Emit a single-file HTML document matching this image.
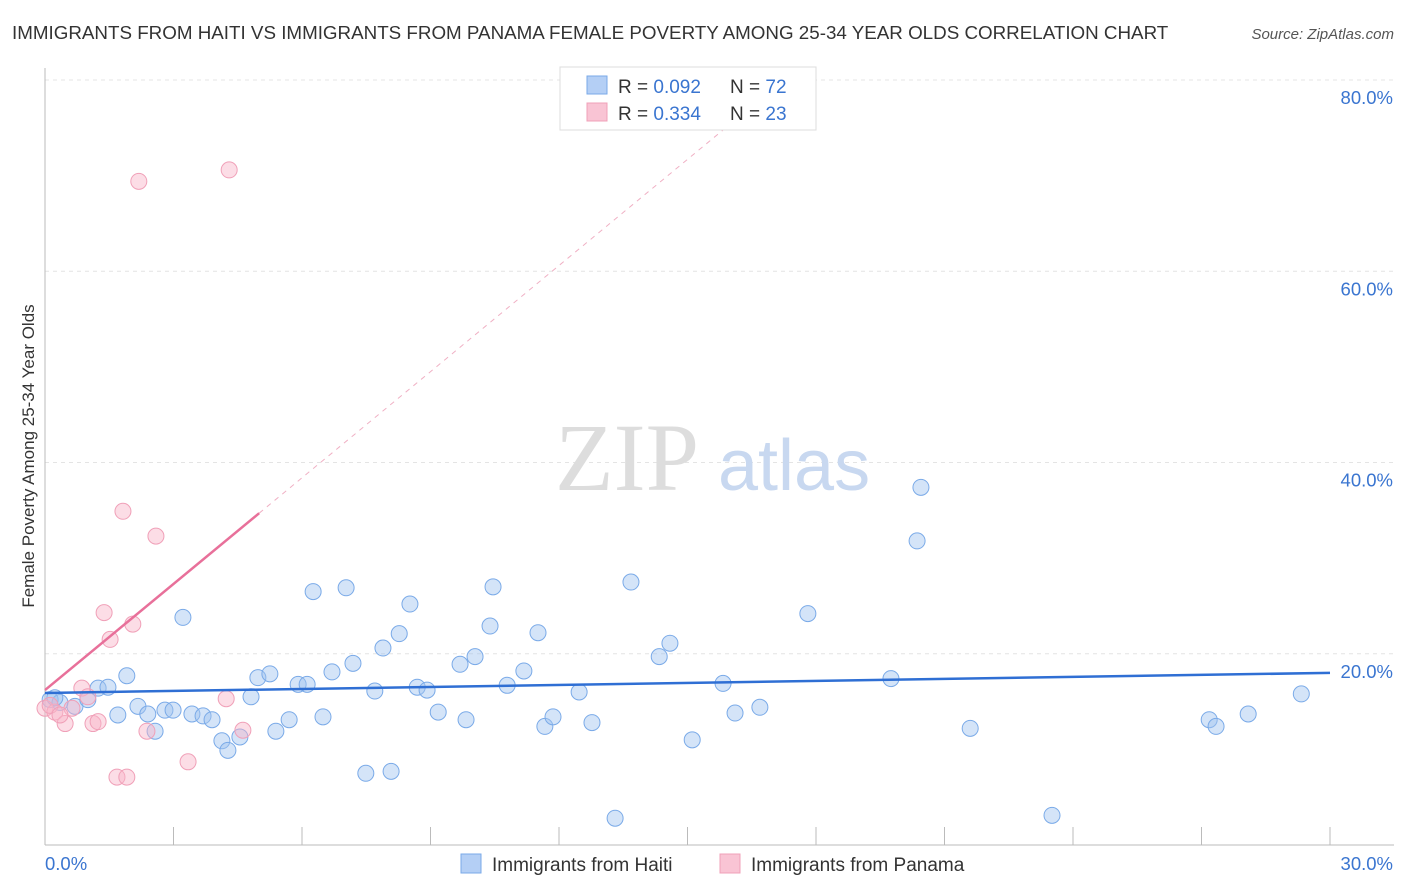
<!DOCTYPE html>
<html><head><meta charset="utf-8"><style>
body{margin:0;background:#fff;font-family:"Liberation Sans",sans-serif}
svg{display:block}
</style></head><body>
<svg width="1406" height="892" viewBox="0 0 1406 892">
<text x="12" y="39" font-size="18.8" fill="#333">IMMIGRANTS FROM HAITI VS IMMIGRANTS FROM PANAMA FEMALE POVERTY AMONG 25-34 YEAR OLDS CORRELATION CHART</text>
<text x="1394" y="39" font-size="15" fill="#555" font-style="italic" text-anchor="end">Source: ZipAtlas.com</text>
<g id="grid"></g>
<g><text x="555" y="490" font-size="96" font-family="Liberation Serif" fill="#ddd">ZIP</text><text x="718" y="490" font-size="72" fill="#c8d8f0">atlas</text></g>
<g id="axes"></g>
<g id="marks"></g>
<text transform="translate(34,456) rotate(-90)" font-size="17" fill="#333" text-anchor="middle">Female Poverty Among 25-34 Year Olds</text>
<g>
<rect x="560" y="67" width="256" height="63" fill="#fff" stroke="#ddd"/>
<rect x="587" y="76" width="20" height="18" fill="#b4cff5" stroke="#7aaae8"/>
<rect x="587" y="103" width="20" height="18" fill="#f9c4d4" stroke="#f0a0b8"/>
<text x="618" y="93" font-size="19" fill="#333">R = <tspan fill="#3a75d0">0.092</tspan></text>
<text x="730" y="93" font-size="19" fill="#333">N = <tspan fill="#3a75d0">72</tspan></text>
<text x="618" y="120" font-size="19" fill="#333">R = <tspan fill="#3a75d0">0.334</tspan></text>
<text x="730" y="120" font-size="19" fill="#333">N = <tspan fill="#3a75d0">23</tspan></text>
</g>
<g>
<rect x="461" y="854" width="20" height="19" fill="#b4cff5" stroke="#7aaae8"/>
<text x="492" y="871" font-size="19" fill="#333">Immigrants from Haiti</text>
<rect x="720" y="854" width="20" height="19" fill="#f9c4d4" stroke="#f0a0b8"/>
<text x="751" y="871" font-size="19" fill="#333">Immigrants from Panama</text>
</g>
</svg>
<script>
const yTicks=[20,40,60,80];
const xTickLabels=["0.0%","30.0%"];
const haitiX=[0.12,0.35,0.70,1.00,1.24,1.47,1.70,1.91,2.17,2.40,2.57,2.80,2.99,3.22,3.43,3.69,3.90,4.13,4.27,4.55,4.81,4.97,5.25,5.39,5.70,5.91,6.12,6.26,6.49,6.70,7.03,7.19,7.49,7.70,7.89,8.08,8.27,8.52,8.69,8.92,9.18,9.69,9.83,10.04,10.39,10.46,10.79,11.18,11.51,11.67,11.86,12.47,12.77,13.31,13.68,14.34,14.59,15.11,15.83,16.11,16.69,17.81,19.75,20.36,20.45,21.60,23.51,27.18,27.34,28.09,29.33,0.23];
const haitiY=[15.2,14.9,14.5,15.2,16.4,16.5,13.6,17.7,14.5,13.7,11.9,14.1,14.1,23.8,13.7,13.5,13.1,10.9,9.9,11.3,15.5,17.5,17.9,11.9,13.1,16.8,16.8,26.5,13.4,18.1,26.9,19.0,7.5,16.1,20.6,7.7,22.1,25.2,16.5,16.2,13.9,18.9,13.1,19.7,22.9,27.0,16.7,18.2,22.2,12.4,13.4,16.0,12.8,2.8,27.5,19.7,21.1,11.0,16.9,13.8,14.4,24.2,17.4,31.8,37.4,12.2,3.1,13.1,12.4,13.7,15.8,15.4];
const panamaX=[0,0.23,0.47,0.63,0.86,1.0,1.12,1.24,1.38,1.52,1.68,1.82,1.91,2.05,2.38,2.59,3.34,4.23,4.30,2.19,4.62,0.12,0.35];
const panamaY=[14.3,13.9,12.7,14.3,16.4,15.5,12.7,12.9,24.3,21.5,7.1,34.9,7.1,23.1,11.9,32.3,8.7,15.3,70.6,69.4,12.0,14.6,13.6];
const haitiFit=[15.9,18.0];
const panamaFit=[16.2,3.7];
const NS="http://www.w3.org/2000/svg";
const X=v=>45+v*(1330-45)/30, Y=v=>845-v*(845-80)/80;
function mk(p,t,a){const e=document.createElementNS(NS,t);for(const k in a)e.setAttribute(k,a[k]);document.getElementById(p).appendChild(e);return e;}
yTicks.forEach(t=>{
 const l=mk('grid','line',{x1:45,x2:1394,y1:Y(t),y2:Y(t),stroke:'#e4e4e4','stroke-dasharray':'4,4'});
 
 
 const s=mk('axes','text',{x:1393,y:Y(t)+24,'font-size':18.5,fill:'#3a75d0','text-anchor':'end'});
 s.textContent=t.toFixed(1)+'%';
 
 
});
mk('axes','line',{x1:45,x2:45,y1:68,y2:845,stroke:'#bbb'});
mk('axes','line',{x1:45,x2:1394,y1:845,y2:845,stroke:'#bbb'});
for(let i=0;i<=10;i++){const t=mk('axes','line',{x1:X(i*3),x2:X(i*3),y1:827,y2:845,stroke:'#bbb'});
 
 }
const a0=mk('axes','text',{x:45,y:870,'font-size':18.5,fill:'#3a75d0'});a0.textContent=xTickLabels[0];


const a1=mk('axes','text',{x:1393,y:870,'font-size':18.5,fill:'#3a75d0','text-anchor':'end'});a1.textContent=xTickLabels[1];


haitiX.forEach((x,i)=>{const c=mk('marks','circle',{cx:X(x),cy:Y(haitiY[i]),r:8,fill:'rgba(160,196,240,0.45)',stroke:'#7aaae8','stroke-width':1});
 
 });
panamaX.forEach((x,i)=>{const c=mk('marks','circle',{cx:X(x),cy:Y(panamaY[i]),r:8,fill:'rgba(248,180,200,0.45)',stroke:'#f0a0b8','stroke-width':1});
 
 });
const bl=mk('marks','line',{x1:X(0),y1:Y(haitiFit[0]),x2:X(30),y2:Y(haitiFit[1]),stroke:'#2f6fd4','stroke-width':2.5});


const pe=5.0, ptop=75, pd=(ptop-panamaFit[0])/panamaFit[1];
const pl=mk('marks','line',{x1:X(0),y1:Y(panamaFit[0]),x2:X(pe),y2:Y(panamaFit[0]+panamaFit[1]*pe),stroke:'#e8709a','stroke-width':2.5});


const pdl=mk('marks','line',{x1:X(pe),y1:Y(panamaFit[0]+panamaFit[1]*pe),x2:X(pd),y2:Y(ptop),stroke:'#f0b0c4','stroke-width':1,'stroke-dasharray':'5,5'});


</script>
</body></html>
